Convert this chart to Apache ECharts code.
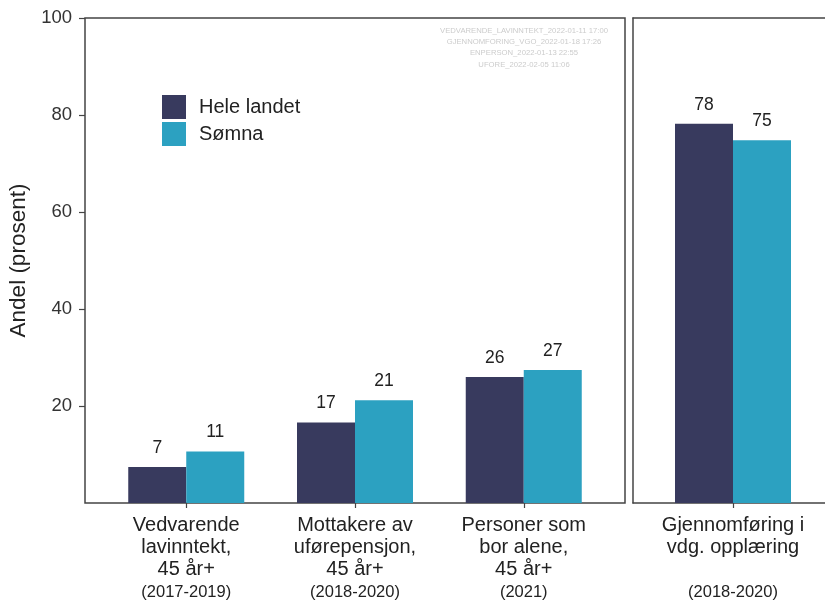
<!DOCTYPE html>
<html>
<head>
<meta charset="utf-8">
<script src="https://cdn.jsdelivr.net/npm/echarts@6/dist/echarts.min.js"></script>
<style>
html,body{margin:0;padding:0;background:#fff;}
#chart{width:825px;height:602px;}
</style>
</head>
<body>
<div id="chart"></div>
<script>
// ---- data ----
const categoriesLeft = ["Vedvarende\nlavinntekt,\n45 år+", "Mottakere av\nuførepensjon,\n45 år+", "Personer som\nbor alene,\n45 år+"];
const periodsLeft = ["(2017-2019)", "(2018-2020)", "(2021)"];
const heleLandetLeft = [7.4, 16.6, 26.0];
const somnaLeft = [10.6, 21.2, 27.4];

const categoriesRight = ["Gjennomføring i\nvdg. opplæring\n "];
const periodsRight = ["(2018-2020)"];
const heleLandetRight = [78.2];
const somnaRight = [74.8];

const seriesNames = ["Hele landet", "Sømna"];
const yTicks = [0, 20, 40, 60, 80, 100];
const stampLines = ["VEDVARENDE_LAVINNTEKT_2022-01-11 17:00", "GJENNOMFORING_VGO_2022-01-18 17:26", "ENPERSON_2022-01-13 22:55", "UFORE_2022-02-05 11:06"];

// ---- style ----
const FONT = "Liberation Sans, Arial, sans-serif";
const DARK = "#383a5e";
const TEAL = "#2ca1c1";
const LINE = "#444";

function pts(vals){ return vals.map((v,i)=>[i+1, v]); }
function catLabel(cats, periods){
  return function(v){
    const i = Math.round(v) - 1;
    if (i < 0 || i >= cats.length) return '';
    const lines = cats[i].split("\n").map(s => '{a|' + s + '}').join("\n");
    return lines + "\n{b|" + periods[i] + "}";
  };
}
const richX = {
  a: {fontFamily: FONT, fontSize: 20, color: '#222', lineHeight: 21.7, align: 'center'},
  b: {fontFamily: FONT, fontSize: 16.5, color: '#222', lineHeight: 24, align: 'center'}
};
const barLabel = {show: true, position: 'top', distance: 10, fontFamily: FONT, fontSize: 17.5, color: '#222',
  formatter: p => Math.round(p.value[1])};

function xAxis(gridIndex, n, cats, periods, showLine){
  return {
    type: 'value', gridIndex: gridIndex, min: 0.4, max: n + 0.6, position: 'bottom',
    splitLine: {show: false},
    axisLine: {show: showLine, onZero: false, lineStyle: {color: LINE, width: 1.5}},
    axisTick: {show: true, customValues: cats.map((c,i)=>i+1), length: 5, lineStyle: {color: LINE, width: 1.2}},
    axisLabel: {show: true, customValues: cats.map((c,i)=>i+1), margin: 12, formatter: catLabel(cats, periods), rich: richX}
  };
}

const chart = echarts.init(document.getElementById('chart'), null, {renderer: 'canvas'});
chart.setOption({
  animation: false,
  backgroundColor: '#fff',
  grid: [
    {left: 85, top: 18, width: 540, height: 485, show: true, borderColor: LINE, borderWidth: 1.5, backgroundColor: 'transparent', outerBoundsMode: 'none', containLabel: false},
    {left: 633, top: 18, width: 200, height: 485, show: false, outerBoundsMode: 'none', containLabel: false}
  ],
  legend: {
    show: true, orient: 'vertical', left: 162, top: 95, padding: 0, itemWidth: 24, itemHeight: 24, itemGap: 3,
    icon: 'rect', data: seriesNames,
    textStyle: {fontFamily: FONT, fontSize: 20, color: '#222', padding: [0,0,0,8]}
  },
  xAxis: [
    xAxis(0, categoriesLeft.length, categoriesLeft, periodsLeft, false),
    xAxis(1, categoriesRight.length, categoriesRight, periodsRight, true),
    {type: 'value', gridIndex: 1, position: 'top', min: 0.4, max: 1.6, splitLine: {show: false},
     axisLine: {show: true, onZero: false, lineStyle: {color: LINE, width: 1.5}}, axisTick: {show: false}, axisLabel: {show: false}}
  ],
  yAxis: [
    {type: 'value', gridIndex: 0, min: yTicks[0], max: yTicks[yTicks.length-1], interval: 20,
     name: 'Andel (prosent)', nameLocation: 'middle', nameGap: 50, nameRotate: 90,
     nameTextStyle: {fontFamily: FONT, fontSize: 22.5, color: '#222'},
     splitLine: {show: false}, axisLine: {show: false},
     axisTick: {show: true, length: 6, lineStyle: {color: LINE, width: 1.2}},
     axisLabel: {showMinLabel: false, margin: 13, fontFamily: FONT, fontSize: 18.5, color: '#333'}},
    {type: 'value', gridIndex: 1, min: yTicks[0], max: yTicks[yTicks.length-1], interval: 20,
     splitLine: {show: false}, axisLine: {show: true, onZero: false, lineStyle: {color: LINE, width: 1.5}},
     axisTick: {show: false}, axisLabel: {show: false}}
  ],
  series: [
    {name: seriesNames[0], type: 'bar', xAxisIndex: 0, yAxisIndex: 0, data: pts(heleLandetLeft), barWidth: 58, barGap: '0%', itemStyle: {color: DARK}, label: barLabel},
    {name: seriesNames[1], type: 'bar', xAxisIndex: 0, yAxisIndex: 0, data: pts(somnaLeft), barWidth: 58, barGap: '0%', itemStyle: {color: TEAL}, label: barLabel},
    {name: seriesNames[0], type: 'bar', xAxisIndex: 1, yAxisIndex: 1, data: pts(heleLandetRight), barWidth: 58, barGap: '0%', itemStyle: {color: DARK}, label: barLabel},
    {name: seriesNames[1], type: 'bar', xAxisIndex: 1, yAxisIndex: 1, data: pts(somnaRight), barWidth: 58, barGap: '0%', itemStyle: {color: TEAL}, label: barLabel}
  ],
  graphic: [{
    type: 'text', x: 524, y: 25, z: 10,
    style: {text: stampLines.join("\n"), fontFamily: FONT, fontSize: 7.7, lineHeight: 11.3, fill: '#cccccc', align: 'center', verticalAlign: 'top'}
  }]
});
</script>
</body>
</html>
